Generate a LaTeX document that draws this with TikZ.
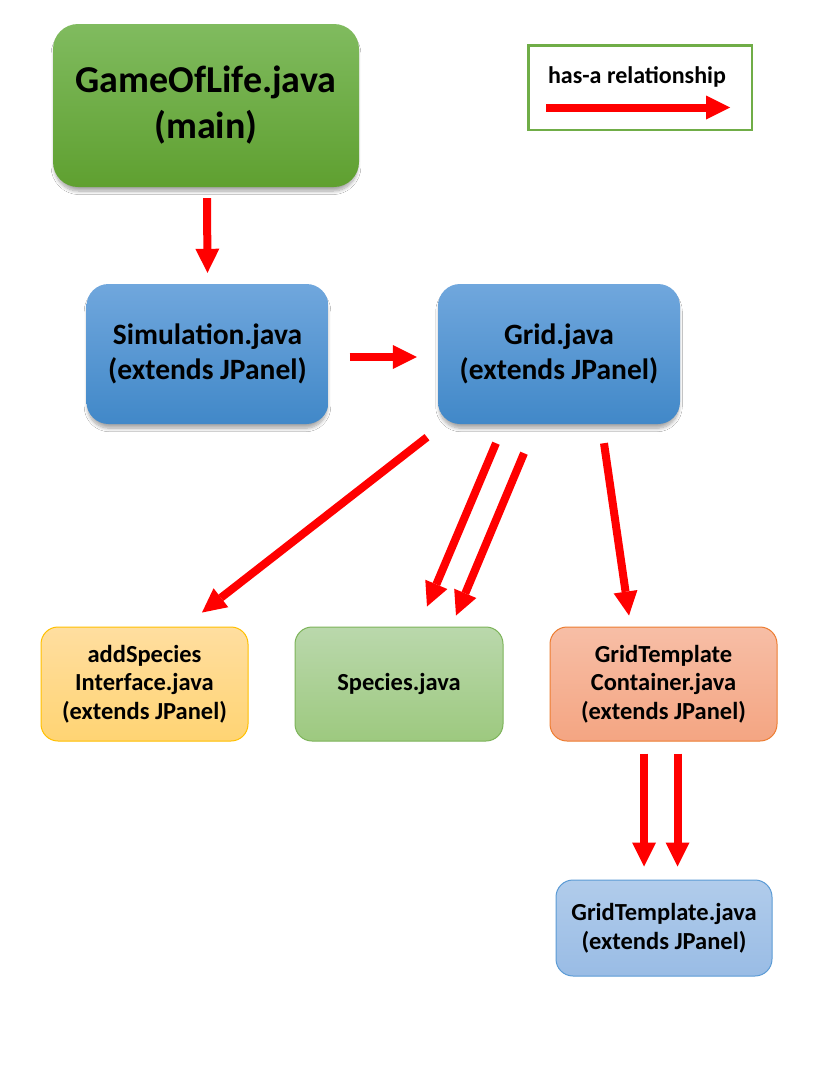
\documentclass[tikz,border=0pt]{standalone}
\usepackage{fontspec}
\setmainfont{Carlito}
\usetikzlibrary{arrows.meta,calc,shadows.blur}
\definecolor{gameT}{RGB}{128,187,95}
\definecolor{gameB}{RGB}{95,160,48}
\definecolor{blueT}{RGB}{112,167,221}
\definecolor{blueB}{RGB}{65,136,200}
\definecolor{yelT}{RGB}{255,222,160}
\definecolor{yelB}{RGB}{255,212,115}
\definecolor{yelD}{RGB}{255,192,0}
\definecolor{spT}{RGB}{186,216,172}
\definecolor{spB}{RGB}{157,201,127}
\definecolor{spD}{RGB}{125,180,90}
\definecolor{orT}{RGB}{247,190,166}
\definecolor{orB}{RGB}{244,165,130}
\definecolor{orD}{RGB}{237,125,49}
\definecolor{gtT}{RGB}{177,204,235}
\definecolor{gtB}{RGB}{153,188,229}
\definecolor{gtD}{RGB}{91,155,213}
\definecolor{legD}{RGB}{112,173,71}
\definecolor{redc}{RGB}{255,0,0}
\tikzset{
  box/.style={align=center, inner sep=0pt, text=black},
  softshadow/.style={blur shadow={shadow xshift=0pt, shadow yshift=-5pt, shadow blur radius=3.5pt, shadow opacity=35, shadow blur steps=8, shadow scale=0.99}},
  bigfont/.style={font=\fontsize{38}{46}\selectfont\bfseries},
  midfont/.style={font=\fontsize{29.5}{35}\selectfont\bfseries},
  smallfont/.style={font=\fontsize{24.5}{28.5}\selectfont\bfseries},
  gamebox/.style={box, bigfont, minimum width=306pt, minimum height=163pt, rounded corners=25pt, top color=gameT, bottom color=gameB, softshadow},
  bluebox/.style={box, midfont, minimum width=242pt, minimum height=140pt, rounded corners=22pt, top color=blueT, bottom color=blueB, softshadow},
  lowbox/.style={box, smallfont, minimum height=114pt, rounded corners=17pt, line width=1pt},
  hasarrow/.style={draw=redc, line width=8pt, -{Triangle[width=24pt,length=24pt,line width=0pt]}},
}
\begin{document}
\begin{tikzpicture}[x=1pt,y=-1pt]
\useasboundingbox (0,0) rectangle (833,1079);
\fill[white] (0,0) rectangle (833,1079);

% main nodes
\node[gamebox] (game) at (206,105.5) {GameOfLife.java\\(main)};
\node[bluebox] (sim) at (207.5,354) {Simulation.java\\(extends JPanel)};
\node[bluebox] (grid) at (559,354) {Grid.java\\(extends JPanel)};

% lower nodes
\node[lowbox, minimum width=207pt, top color=yelT, bottom color=yelB, draw=yelD] (add) at (144.5,684) {addSpecies\\Interface.java\\(extends JPanel)};
\node[lowbox, minimum width=208pt, top color=spT, bottom color=spB, draw=spD] (species) at (399,684) {Species.java};
\node[lowbox, minimum width=227pt, top color=orT, bottom color=orB, draw=orD] (gtc) at (663.5,684) {GridTemplate\\Container.java\\(extends JPanel)};
\node[lowbox, minimum width=216pt, minimum height=96pt, top color=gtT, bottom color=gtB, draw=gtD] (gt) at (664,928) {GridTemplate.java\\(extends JPanel)};

% legend
\node[draw=legD, line width=2.5pt, fill=white, minimum width=223.5pt, minimum height=84.5pt, inner sep=0pt] (leg) at (640,87.5) {};
\node[box, font=\fontsize{24}{28}\selectfont\bfseries] (legtxt) at (637,77) {has-a relationship};
\coordinate (la) at ($(leg.center)+(-94,20)$);
\coordinate (lb) at ($(leg.center)+(90,20)$);
\draw[hasarrow] (la) -- (lb);

% connectors
\draw[hasarrow] ($(game.south)+(1,11)$) -- ($(sim.north)+(0,-11)$);
\draw[hasarrow] ($(sim.east)+(21,3)$) -- ($(grid.west)+(-21,3)$);
\draw[hasarrow] ($(grid.south)+(-132,13)$) -- ($(add.north)+(57.5,-14)$);
\draw[hasarrow] ($(grid.south)+(-63,19)$) -- ($(species.north)+(28,-20)$);
\draw[hasarrow] ($(grid.south)+(-35,29)$) -- ($(species.north)+(57,-11)$);
\draw[hasarrow] ($(grid.south)+(45,19)$) -- ($(gtc.north)+(-34.5,-11)$);
\draw[hasarrow] ($(gtc.south)+(-19.5,12)$) -- ($(gt.north)+(-20,-13)$);
\draw[hasarrow] ($(gtc.south)+(14,12)$) -- ($(gt.north)+(13.5,-13)$);
\end{tikzpicture}
\end{document}
